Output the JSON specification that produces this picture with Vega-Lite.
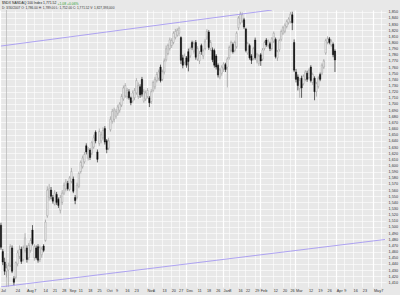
{
  "$schema": "https://vega.github.io/schema/vega-lite/v6.json",
  "width": 386,
  "height": 277,
  "autosize": "none",
  "padding": {"left": 0, "top": 10, "right": 14, "bottom": 8},
  "background": "#e8e8e8",
  "title": {
    "text": "$NDX NASDAQ 100 Index  1,771.52",
    "subtitle": "D: 3/30/2007  O: 1,786.00  H: 1,789.00  L: 1,752.00  C: 1,771.52  V: 1,827,393,000",
    "anchor": "start",
    "frame": "group",
    "offset": 1,
    "dx": 2,
    "dy": 9,
    "font": "Liberation Sans",
    "fontSize": 3.4,
    "fontWeight": "normal",
    "color": "#222222",
    "subtitleFont": "Liberation Sans",
    "subtitleFontSize": 3.2,
    "subtitleColor": "#333333",
    "subtitlePadding": 1.5
  },
  "datasets": {
    "candles": [
      {"d":"2006-07-12","o":1503,"h":1507,"l":1463,"c":1467},
      {"d":"2006-07-13","o":1460,"h":1464,"l":1438,"c":1443},
      {"d":"2006-07-14","o":1443,"h":1450,"l":1422,"c":1428},
      {"d":"2006-07-17","o":1428,"h":1440,"l":1418,"c":1433},
      {"d":"2006-07-18","o":1430,"h":1442,"l":1403,"c":1437},
      {"d":"2006-07-19","o":1437,"h":1472,"l":1435,"c":1468},
      {"d":"2006-07-20","o":1466,"h":1470,"l":1425,"c":1428},
      {"d":"2006-07-21","o":1416,"h":1420,"l":1405,"c":1410},
      {"d":"2006-07-24","o":1418,"h":1444,"l":1415,"c":1442},
      {"d":"2006-07-25","o":1440,"h":1462,"l":1436,"c":1458},
      {"d":"2006-07-26","o":1452,"h":1470,"l":1448,"c":1463},
      {"d":"2006-07-27","o":1464,"h":1468,"l":1440,"c":1444},
      {"d":"2006-07-28","o":1447,"h":1470,"l":1444,"c":1466},
      {"d":"2006-07-31","o":1462,"h":1490,"l":1458,"c":1482},
      {"d":"2006-08-01","o":1466,"h":1470,"l":1442,"c":1447},
      {"d":"2006-08-02","o":1450,"h":1474,"l":1446,"c":1470},
      {"d":"2006-08-03","o":1462,"h":1482,"l":1458,"c":1478},
      {"d":"2006-08-04","o":1495,"h":1503,"l":1470,"c":1473},
      {"d":"2006-08-07","o":1450,"h":1472,"l":1445,"c":1468},
      {"d":"2006-08-08","o":1466,"h":1470,"l":1447,"c":1450},
      {"d":"2006-08-09","o":1468,"h":1472,"l":1442,"c":1446},
      {"d":"2006-08-10","o":1447,"h":1470,"l":1443,"c":1466},
      {"d":"2006-08-11","o":1455,"h":1468,"l":1450,"c":1464},
      {"d":"2006-08-14","o":1469,"h":1472,"l":1459,"c":1462},
      {"d":"2006-08-15","o":1478,"h":1512,"l":1476,"c":1508},
      {"d":"2006-08-16","o":1518,"h":1566,"l":1515,"c":1560},
      {"d":"2006-08-17","o":1548,"h":1570,"l":1543,"c":1562},
      {"d":"2006-08-18","o":1560,"h":1565,"l":1545,"c":1550},
      {"d":"2006-08-21","o":1548,"h":1552,"l":1538,"c":1542},
      {"d":"2006-08-22","o":1537,"h":1560,"l":1535,"c":1555},
      {"d":"2006-08-23","o":1553,"h":1557,"l":1536,"c":1540},
      {"d":"2006-08-24","o":1545,"h":1548,"l":1531,"c":1535},
      {"d":"2006-08-25","o":1527,"h":1552,"l":1522,"c":1548},
      {"d":"2006-08-28","o":1540,"h":1560,"l":1536,"c":1555},
      {"d":"2006-08-29","o":1555,"h":1572,"l":1552,"c":1568},
      {"d":"2006-08-30","o":1562,"h":1578,"l":1558,"c":1573},
      {"d":"2006-08-31","o":1571,"h":1575,"l":1559,"c":1562},
      {"d":"2006-09-01","o":1561,"h":1583,"l":1558,"c":1580},
      {"d":"2006-09-05","o":1574,"h":1596,"l":1571,"c":1590},
      {"d":"2006-09-06","o":1578,"h":1582,"l":1555,"c":1558},
      {"d":"2006-09-07","o":1548,"h":1552,"l":1537,"c":1543},
      {"d":"2006-09-08","o":1548,"h":1572,"l":1545,"c":1568},
      {"d":"2006-09-11","o":1566,"h":1590,"l":1563,"c":1587},
      {"d":"2006-09-12","o":1590,"h":1608,"l":1587,"c":1605},
      {"d":"2006-09-13","o":1598,"h":1616,"l":1595,"c":1612},
      {"d":"2006-09-14","o":1606,"h":1622,"l":1603,"c":1618},
      {"d":"2006-09-15","o":1632,"h":1636,"l":1618,"c":1622},
      {"d":"2006-09-18","o":1612,"h":1630,"l":1608,"c":1626},
      {"d":"2006-09-19","o":1625,"h":1628,"l":1609,"c":1613},
      {"d":"2006-09-20","o":1620,"h":1640,"l":1617,"c":1637},
      {"d":"2006-09-21","o":1630,"h":1650,"l":1627,"c":1645},
      {"d":"2006-09-22","o":1654,"h":1657,"l":1636,"c":1640},
      {"d":"2006-09-25","o":1622,"h":1626,"l":1605,"c":1610},
      {"d":"2006-09-26","o":1636,"h":1660,"l":1632,"c":1655},
      {"d":"2006-09-27","o":1640,"h":1655,"l":1636,"c":1650},
      {"d":"2006-09-28","o":1645,"h":1662,"l":1642,"c":1657},
      {"d":"2006-09-29","o":1660,"h":1664,"l":1634,"c":1638},
      {"d":"2006-10-02","o":1640,"h":1643,"l":1620,"c":1626},
      {"d":"2006-10-03","o":1628,"h":1645,"l":1625,"c":1640},
      {"d":"2006-10-04","o":1658,"h":1680,"l":1655,"c":1675},
      {"d":"2006-10-05","o":1672,"h":1692,"l":1668,"c":1688},
      {"d":"2006-10-06","o":1675,"h":1694,"l":1670,"c":1690},
      {"d":"2006-10-09","o":1680,"h":1692,"l":1676,"c":1688},
      {"d":"2006-10-10","o":1685,"h":1699,"l":1681,"c":1695},
      {"d":"2006-10-11","o":1690,"h":1703,"l":1686,"c":1700},
      {"d":"2006-10-12","o":1698,"h":1716,"l":1695,"c":1712},
      {"d":"2006-10-13","o":1708,"h":1730,"l":1705,"c":1726},
      {"d":"2006-10-16","o":1713,"h":1734,"l":1710,"c":1730},
      {"d":"2006-10-17","o":1712,"h":1726,"l":1708,"c":1722},
      {"d":"2006-10-18","o":1720,"h":1724,"l":1707,"c":1710},
      {"d":"2006-10-19","o":1710,"h":1712,"l":1698,"c":1702},
      {"d":"2006-10-20","o":1705,"h":1722,"l":1702,"c":1718},
      {"d":"2006-10-23","o":1710,"h":1726,"l":1706,"c":1722},
      {"d":"2006-10-24","o":1718,"h":1742,"l":1715,"c":1738},
      {"d":"2006-10-25","o":1712,"h":1735,"l":1708,"c":1730},
      {"d":"2006-10-26","o":1728,"h":1732,"l":1710,"c":1715},
      {"d":"2006-10-27","o":1740,"h":1744,"l":1712,"c":1716},
      {"d":"2006-10-30","o":1705,"h":1724,"l":1702,"c":1720},
      {"d":"2006-10-31","o":1708,"h":1722,"l":1705,"c":1718},
      {"d":"2006-11-01","o":1712,"h":1726,"l":1709,"c":1722},
      {"d":"2006-11-02","o":1710,"h":1713,"l":1695,"c":1702},
      {"d":"2006-11-03","o":1704,"h":1724,"l":1700,"c":1720},
      {"d":"2006-11-06","o":1722,"h":1738,"l":1719,"c":1735},
      {"d":"2006-11-07","o":1728,"h":1744,"l":1724,"c":1740},
      {"d":"2006-11-08","o":1738,"h":1752,"l":1735,"c":1748},
      {"d":"2006-11-09","o":1742,"h":1756,"l":1738,"c":1752},
      {"d":"2006-11-10","o":1760,"h":1764,"l":1735,"c":1738},
      {"d":"2006-11-13","o":1740,"h":1756,"l":1737,"c":1752},
      {"d":"2006-11-14","o":1752,"h":1774,"l":1748,"c":1770},
      {"d":"2006-11-15","o":1772,"h":1795,"l":1769,"c":1790},
      {"d":"2006-11-16","o":1782,"h":1798,"l":1779,"c":1795},
      {"d":"2006-11-17","o":1790,"h":1808,"l":1787,"c":1804},
      {"d":"2006-11-20","o":1795,"h":1807,"l":1791,"c":1803},
      {"d":"2006-11-21","o":1800,"h":1818,"l":1797,"c":1815},
      {"d":"2006-11-22","o":1808,"h":1822,"l":1805,"c":1818},
      {"d":"2006-11-24","o":1812,"h":1823,"l":1809,"c":1820},
      {"d":"2006-11-27","o":1815,"h":1826,"l":1810,"c":1823},
      {"d":"2006-11-28","o":1808,"h":1810,"l":1765,"c":1771},
      {"d":"2006-11-29","o":1775,"h":1780,"l":1758,"c":1763},
      {"d":"2006-11-30","o":1768,"h":1782,"l":1764,"c":1778},
      {"d":"2006-12-01","o":1775,"h":1778,"l":1759,"c":1763},
      {"d":"2006-12-04","o":1785,"h":1790,"l":1753,"c":1769},
      {"d":"2006-12-05","o":1778,"h":1793,"l":1775,"c":1790},
      {"d":"2006-12-06","o":1800,"h":1803,"l":1788,"c":1792},
      {"d":"2006-12-07","o":1786,"h":1802,"l":1782,"c":1798},
      {"d":"2006-12-08","o":1800,"h":1804,"l":1772,"c":1776},
      {"d":"2006-12-11","o":1773,"h":1794,"l":1770,"c":1790},
      {"d":"2006-12-12","o":1770,"h":1786,"l":1765,"c":1782},
      {"d":"2006-12-13","o":1795,"h":1798,"l":1780,"c":1785},
      {"d":"2006-12-14","o":1778,"h":1790,"l":1773,"c":1786},
      {"d":"2006-12-15","o":1790,"h":1806,"l":1787,"c":1802},
      {"d":"2006-12-18","o":1807,"h":1822,"l":1804,"c":1818},
      {"d":"2006-12-19","o":1817,"h":1820,"l":1788,"c":1792},
      {"d":"2006-12-20","o":1790,"h":1804,"l":1786,"c":1800},
      {"d":"2006-12-21","o":1788,"h":1792,"l":1768,"c":1772},
      {"d":"2006-12-22","o":1787,"h":1790,"l":1759,"c":1763},
      {"d":"2006-12-26","o":1778,"h":1781,"l":1756,"c":1760},
      {"d":"2006-12-27","o":1763,"h":1766,"l":1743,"c":1747},
      {"d":"2006-12-28","o":1744,"h":1758,"l":1740,"c":1755},
      {"d":"2006-12-29","o":1750,"h":1763,"l":1746,"c":1760},
      {"d":"2007-01-03","o":1757,"h":1768,"l":1752,"c":1765},
      {"d":"2007-01-04","o":1764,"h":1767,"l":1752,"c":1756},
      {"d":"2007-01-05","o":1760,"h":1776,"l":1727,"c":1773},
      {"d":"2007-01-08","o":1775,"h":1795,"l":1772,"c":1792},
      {"d":"2007-01-09","o":1787,"h":1803,"l":1784,"c":1800},
      {"d":"2007-01-10","o":1797,"h":1800,"l":1782,"c":1785},
      {"d":"2007-01-11","o":1787,"h":1803,"l":1784,"c":1800},
      {"d":"2007-01-12","o":1793,"h":1818,"l":1790,"c":1815},
      {"d":"2007-01-16","o":1824,"h":1843,"l":1820,"c":1840},
      {"d":"2007-01-17","o":1832,"h":1850,"l":1829,"c":1846},
      {"d":"2007-01-18","o":1835,"h":1849,"l":1832,"c":1845},
      {"d":"2007-01-19","o":1837,"h":1840,"l":1822,"c":1825},
      {"d":"2007-01-22","o":1822,"h":1824,"l":1784,"c":1787},
      {"d":"2007-01-23","o":1783,"h":1801,"l":1780,"c":1798},
      {"d":"2007-01-24","o":1795,"h":1798,"l":1772,"c":1775},
      {"d":"2007-01-25","o":1778,"h":1781,"l":1765,"c":1771},
      {"d":"2007-01-26","o":1774,"h":1793,"l":1771,"c":1790},
      {"d":"2007-01-29","o":1804,"h":1808,"l":1772,"c":1775},
      {"d":"2007-01-30","o":1770,"h":1783,"l":1766,"c":1780},
      {"d":"2007-01-31","o":1766,"h":1781,"l":1762,"c":1778},
      {"d":"2007-02-01","o":1780,"h":1783,"l":1762,"c":1770},
      {"d":"2007-02-02","o":1773,"h":1791,"l":1770,"c":1788},
      {"d":"2007-02-05","o":1790,"h":1803,"l":1787,"c":1800},
      {"d":"2007-02-06","o":1804,"h":1807,"l":1793,"c":1796},
      {"d":"2007-02-07","o":1795,"h":1805,"l":1792,"c":1802},
      {"d":"2007-02-08","o":1798,"h":1801,"l":1786,"c":1790},
      {"d":"2007-02-09","o":1790,"h":1809,"l":1787,"c":1806},
      {"d":"2007-02-12","o":1802,"h":1818,"l":1799,"c":1815},
      {"d":"2007-02-13","o":1805,"h":1808,"l":1774,"c":1777},
      {"d":"2007-02-14","o":1775,"h":1788,"l":1770,"c":1785},
      {"d":"2007-02-15","o":1788,"h":1806,"l":1785,"c":1803},
      {"d":"2007-02-16","o":1805,"h":1821,"l":1802,"c":1818},
      {"d":"2007-02-20","o":1815,"h":1827,"l":1812,"c":1824},
      {"d":"2007-02-21","o":1818,"h":1831,"l":1815,"c":1828},
      {"d":"2007-02-22","o":1826,"h":1837,"l":1823,"c":1834},
      {"d":"2007-02-23","o":1832,"h":1841,"l":1829,"c":1838},
      {"d":"2007-02-26","o":1834,"h":1850,"l":1831,"c":1846},
      {"d":"2007-02-27","o":1845,"h":1850,"l":1820,"c":1832},
      {"d":"2007-02-28","o":1800,"h":1805,"l":1752,"c":1755},
      {"d":"2007-03-01","o":1752,"h":1757,"l":1735,"c":1740},
      {"d":"2007-03-02","o":1744,"h":1748,"l":1722,"c":1730},
      {"d":"2007-03-05","o":1725,"h":1742,"l":1710,"c":1738},
      {"d":"2007-03-06","o":1742,"h":1746,"l":1710,"c":1726},
      {"d":"2007-03-07","o":1733,"h":1748,"l":1730,"c":1745},
      {"d":"2007-03-08","o":1740,"h":1755,"l":1737,"c":1752},
      {"d":"2007-03-09","o":1750,"h":1754,"l":1736,"c":1740},
      {"d":"2007-03-12","o":1743,"h":1758,"l":1740,"c":1755},
      {"d":"2007-03-13","o":1760,"h":1763,"l":1735,"c":1738},
      {"d":"2007-03-14","o":1735,"h":1751,"l":1731,"c":1748},
      {"d":"2007-03-15","o":1742,"h":1745,"l":1706,"c":1720},
      {"d":"2007-03-16","o":1720,"h":1736,"l":1712,"c":1733},
      {"d":"2007-03-19","o":1728,"h":1745,"l":1725,"c":1742},
      {"d":"2007-03-20","o":1748,"h":1751,"l":1737,"c":1740},
      {"d":"2007-03-21","o":1750,"h":1766,"l":1747,"c":1763},
      {"d":"2007-03-22","o":1760,"h":1773,"l":1757,"c":1770},
      {"d":"2007-03-23","o":1783,"h":1806,"l":1780,"c":1803},
      {"d":"2007-03-26","o":1800,"h":1810,"l":1797,"c":1806},
      {"d":"2007-03-27","o":1806,"h":1809,"l":1797,"c":1800},
      {"d":"2007-03-28","o":1796,"h":1805,"l":1793,"c":1802},
      {"d":"2007-03-29","o":1797,"h":1800,"l":1776,"c":1780},
      {"d":"2007-03-30","o":1786,"h":1789,"l":1752,"c":1771.52}
    ],
    "channel": [
      {"d":"2006-07-12","p":1794.2,"s":"upper"},
      {"d":"2007-02-09","p":1852.8,"s":"upper"},
      {"d":"2006-07-12","p":1402.6,"s":"lower"},
      {"d":"2007-05-09","p":1479.7,"s":"lower"}
    ],
    "cursor": [
      {"d":"2006-07-17"}
    ]
  },
  "encoding": {
    "x": {
      "field": "d",
      "type": "ordinal",
      "title": "+1.08  +0.06%",
      "scale": {
        "paddingInner": 0,
        "paddingOuter": 0,
        "domain": [
          "2006-07-12","2006-07-13","2006-07-14","2006-07-17","2006-07-18","2006-07-19","2006-07-20","2006-07-21","2006-07-24","2006-07-25","2006-07-26","2006-07-27","2006-07-28","2006-07-31",
          "2006-08-01","2006-08-02","2006-08-03","2006-08-04","2006-08-07","2006-08-08","2006-08-09","2006-08-10","2006-08-11","2006-08-14","2006-08-15","2006-08-16","2006-08-17","2006-08-18","2006-08-21","2006-08-22","2006-08-23","2006-08-24","2006-08-25","2006-08-28","2006-08-29","2006-08-30","2006-08-31",
          "2006-09-01","2006-09-05","2006-09-06","2006-09-07","2006-09-08","2006-09-11","2006-09-12","2006-09-13","2006-09-14","2006-09-15","2006-09-18","2006-09-19","2006-09-20","2006-09-21","2006-09-22","2006-09-25","2006-09-26","2006-09-27","2006-09-28","2006-09-29",
          "2006-10-02","2006-10-03","2006-10-04","2006-10-05","2006-10-06","2006-10-09","2006-10-10","2006-10-11","2006-10-12","2006-10-13","2006-10-16","2006-10-17","2006-10-18","2006-10-19","2006-10-20","2006-10-23","2006-10-24","2006-10-25","2006-10-26","2006-10-27","2006-10-30","2006-10-31",
          "2006-11-01","2006-11-02","2006-11-03","2006-11-06","2006-11-07","2006-11-08","2006-11-09","2006-11-10","2006-11-13","2006-11-14","2006-11-15","2006-11-16","2006-11-17","2006-11-20","2006-11-21","2006-11-22","2006-11-24","2006-11-27","2006-11-28","2006-11-29","2006-11-30",
          "2006-12-01","2006-12-04","2006-12-05","2006-12-06","2006-12-07","2006-12-08","2006-12-11","2006-12-12","2006-12-13","2006-12-14","2006-12-15","2006-12-18","2006-12-19","2006-12-20","2006-12-21","2006-12-22","2006-12-26","2006-12-27","2006-12-28","2006-12-29",
          "2007-01-03","2007-01-04","2007-01-05","2007-01-08","2007-01-09","2007-01-10","2007-01-11","2007-01-12","2007-01-16","2007-01-17","2007-01-18","2007-01-19","2007-01-22","2007-01-23","2007-01-24","2007-01-25","2007-01-26","2007-01-29","2007-01-30","2007-01-31",
          "2007-02-01","2007-02-02","2007-02-05","2007-02-06","2007-02-07","2007-02-08","2007-02-09","2007-02-12","2007-02-13","2007-02-14","2007-02-15","2007-02-16","2007-02-20","2007-02-21","2007-02-22","2007-02-23","2007-02-26","2007-02-27","2007-02-28",
          "2007-03-01","2007-03-02","2007-03-05","2007-03-06","2007-03-07","2007-03-08","2007-03-09","2007-03-12","2007-03-13","2007-03-14","2007-03-15","2007-03-16","2007-03-19","2007-03-20","2007-03-21","2007-03-22","2007-03-23","2007-03-26","2007-03-27","2007-03-28","2007-03-29","2007-03-30",
          "2007-04-02","2007-04-03","2007-04-04","2007-04-05","2007-04-09","2007-04-10","2007-04-11","2007-04-12","2007-04-13","2007-04-16","2007-04-17","2007-04-18","2007-04-19","2007-04-20","2007-04-23","2007-04-24","2007-04-25","2007-04-26","2007-04-27","2007-04-30",
          "2007-05-01","2007-05-02","2007-05-03","2007-05-04","2007-05-07","2007-05-08","2007-05-09"
        ]
      },
      "axis": {
        "values": [
          "2006-07-12","2006-07-24","2006-08-01","2006-08-07","2006-08-14","2006-08-21","2006-08-28",
          "2006-09-01","2006-09-11","2006-09-18","2006-09-25","2006-10-02","2006-10-09","2006-10-16","2006-10-23",
          "2006-11-01","2006-11-06","2006-11-13","2006-11-20","2006-11-27","2006-12-01","2006-12-11","2006-12-18","2006-12-26",
          "2007-01-03","2007-01-08","2007-01-16","2007-01-22","2007-01-29","2007-02-01","2007-02-12","2007-02-20","2007-02-26",
          "2007-03-01","2007-03-12","2007-03-19","2007-03-26","2007-04-02","2007-04-09","2007-04-16","2007-04-23","2007-05-01","2007-05-07"
        ],
        "labelExpr": "(datum.value == '2006-07-12' || utcdate(toDate(datum.value)) <= 3) ? utcFormat(toDate(datum.value), '%b') : '' + utcdate(toDate(datum.value))",
        "labelAngle": 0,
        "labelAlign": "left",
        "labelBaseline": "top",
        "labelPadding": 1.5,
        "labelFontSize": 3.8,
        "labelOverlap": false,
        "bandPosition": 0.5,
        "grid": true,
        "gridColor": "#ffffff",
        "gridWidth": {"condition": {"test": "datum.value == '2006-07-12' || utcdate(toDate(datum.value)) <= 3", "value": 1.2}, "value": 0.6},
        "titleColor": "#2e9e2e",
        "titleFont": "Liberation Sans",
        "titleFontSize": 3.4,
        "titleFontWeight": "normal",
        "titleAlign": "left",
        "titleAnchor": "start",
        "titleBaseline": "alphabetic",
        "titleX": 57,
        "titleY": -282.5
      }
    }
  },
  "layer": [
    {
      "data": {"name": "cursor"},
      "mark": {"type": "rule", "color": "#b4b4b4", "strokeWidth": 0.7},
      "encoding": {}
    },
    {
      "data": {"name": "candles"},
      "mark": {"type": "rule", "strokeWidth": 0.6},
      "encoding": {
        "y": {
          "field": "l",
          "type": "quantitative",
          "title": null,
          "scale": {"domain": [1402.4, 1852.8], "nice": false, "zero": false},
          "axis": {
            "orient": "right",
            "values": [1410,1420,1430,1440,1450,1460,1470,1480,1490,1500,1510,1520,1530,1540,1550,1560,1570,1580,1590,1600,1610,1620,1630,1640,1650,1660,1670,1680,1690,1700,1710,1720,1730,1740,1750,1760,1770,1780,1790,1800,1810,1820,1830,1840,1850],
            "format": ",.0f",
            "labelFontSize": 3.8,
            "labelPadding": 2,
            "labelBaseline": "middle",
            "grid": true,
            "gridColor": "#ffffff",
            "gridWidth": 0.6
          }
        },
        "y2": {"field": "h"},
        "color": {"condition": {"test": "datum.c < datum.o", "value": "#000000"}, "value": "#8c8c8c"}
      }
    },
    {
      "data": {"name": "candles"},
      "mark": {"type": "bar", "size": 1.4, "strokeWidth": 0.4},
      "encoding": {
        "y": {
          "field": "o",
          "type": "quantitative",
          "title": null,
          "axis": {
            "orient": "right",
            "values": [1410,1420,1430,1440,1450,1460,1470,1480,1490,1500,1510,1520,1530,1540,1550,1560,1570,1580,1590,1600,1610,1620,1630,1640,1650,1660,1670,1680,1690,1700,1710,1720,1730,1740,1750,1760,1770,1780,1790,1800,1810,1820,1830,1840,1850],
            "format": ",.0f",
            "labelFontSize": 3.8,
            "labelPadding": 2,
            "labelBaseline": "middle",
            "grid": true,
            "gridColor": "#ffffff",
            "gridWidth": 0.6
          }
        },
        "y2": {"field": "c"},
        "fill": {"condition": {"test": "datum.c < datum.o", "value": "#111111"}, "value": "#f6f6f6"},
        "stroke": {"condition": {"test": "datum.c < datum.o", "value": "#111111"}, "value": "#8c8c8c"}
      }
    },
    {
      "data": {"name": "channel"},
      "mark": {"type": "line", "color": "#9d8ff2", "strokeWidth": 0.8, "clip": true},
      "encoding": {
        "y": {
          "field": "p",
          "type": "quantitative",
          "title": null,
          "axis": {
            "orient": "right",
            "values": [1410,1420,1430,1440,1450,1460,1470,1480,1490,1500,1510,1520,1530,1540,1550,1560,1570,1580,1590,1600,1610,1620,1630,1640,1650,1660,1670,1680,1690,1700,1710,1720,1730,1740,1750,1760,1770,1780,1790,1800,1810,1820,1830,1840,1850],
            "format": ",.0f",
            "labelFontSize": 3.8,
            "labelPadding": 2,
            "labelBaseline": "middle",
            "grid": true,
            "gridColor": "#ffffff",
            "gridWidth": 0.6
          }
        },
        "detail": {"field": "s"}
      }
    }
  ],
  "config": {
    "view": {"stroke": null, "fill": "#e8e8e8"},
    "axis": {
      "domain": false,
      "ticks": false,
      "labelFont": "Liberation Sans",
      "labelColor": "#333333"
    }
  }
}
